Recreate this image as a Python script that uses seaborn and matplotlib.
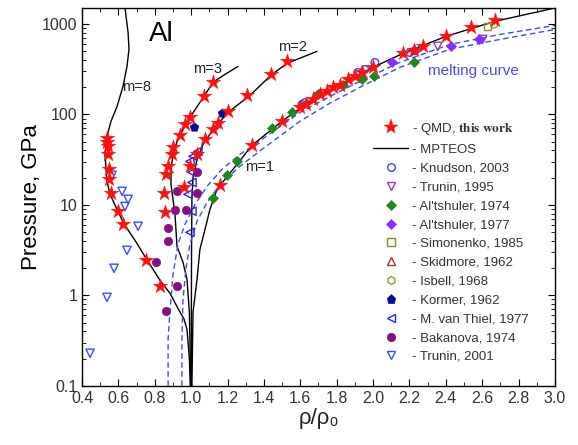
import matplotlib
matplotlib.use("Agg")
import matplotlib.pyplot as plt
import seaborn as sns
from matplotlib.lines import Line2D
from matplotlib.ticker import FixedLocator, FuncFormatter, MultipleLocator, LogLocator, NullFormatter

sns.set_theme(style="ticks")
plt.rcParams["font.family"] = ["Liberation Sans", "DejaVu Sans"]
plt.rcParams["mathtext.fontset"] = "stix"

# ---- QMD (this work), grouped by porosity branch ----
qmd_rho = [0.537, 0.537, 0.543, 0.543, 0.548, 0.548, 0.559, 0.598, 0.625, 0.752, 0.829,
           1.120, 1.070, 0.993, 0.966, 0.938, 0.900, 0.895, 0.873, 0.862, 0.851, 0.856,
           0.960, 0.993, 1.032, 1.076, 1.120, 1.147, 1.202, 1.307, 1.438, 1.526,
           1.158, 1.334, 1.499, 1.598, 1.631, 1.669, 1.708, 1.746, 1.779, 1.818,
           1.862, 1.900, 1.938, 1.999, 2.164, 2.224, 2.274, 2.400, 2.537, 2.669]
qmd_p = [54.3, 49.0, 44.3, 36.1, 24.7, 19.1, 13.7, 8.5, 6.2, 2.44, 1.26,
         226, 158, 92.6, 77.6, 58.6, 43.2, 36.1, 26.6, 21.7, 13.4, 8.3,
         15.6, 26.6, 36.1, 52.9, 68.3, 79.6, 108, 162, 277, 385,
         16.4, 45.4, 83.7, 122, 132, 147, 166, 180, 199, 214,
         244, 263, 291, 331, 472, 510, 564, 728, 915, 1094]

# ---- MPTEOS Hugoniots for porosity m = 8, 3, 2, 1 ----
m8_rho = [0.636, 0.653, 0.658, 0.647, 0.625, 0.592, 0.559, 0.537, 0.526, 0.532, 0.537,
          0.554, 0.592, 0.630, 0.700, 0.750, 0.830, 0.884, 0.930, 0.960, 0.977, 0.990, 0.995]
m8_p = [1500, 805, 523, 339, 204, 122, 84, 57, 36, 24.7, 18.2,
        13.1, 8.9, 6.2, 3.8, 2.6, 1.45, 1.05, 0.70, 0.55, 0.42, 0.2, 0.1]
m3_rho = [1.257, 1.186, 1.120, 1.070, 1.004, 0.955, 0.922, 0.900, 0.889, 0.889,
          0.900, 0.911, 0.922, 0.955, 0.977, 0.990, 0.998]
m3_p = [339, 277, 226, 158, 100, 68, 50, 36, 24.7, 16.9,
        11.5, 7.85, 3.48, 2.32, 1.5, 0.65, 0.1]
m2_rho = [1.691, 1.526, 1.438, 1.323, 1.202, 1.120, 1.065, 1.032, 1.010, 1.004, 1.002, 1.000]
m2_p = [497, 366, 270, 162, 105, 68, 46.6, 31.8, 20.1, 11.5, 3.22, 0.1]
m1_rho = [3.0, 2.669, 2.40, 2.164, 1.999, 1.818, 1.669, 1.499, 1.334, 1.230, 1.158,
          1.142, 1.103, 1.076, 1.048, 1.032, 1.010, 1.004]
m1_p = [1500, 1067, 728, 472, 331, 214, 147, 84, 45.4, 24.7, 16.4,
        14.8, 8.9, 5.36, 3.22, 1.5, 0.65, 0.1]

# ---- melting curves ----
melt_a_rho = [0.873, 0.873, 0.884, 0.900, 0.927, 0.966, 1.021, 1.087, 1.169, 1.268,
              1.389, 1.598, 1.763, 1.927, 2.147, 2.422, 2.697, 3.0]
melt_a_p = [0.1, 0.327, 0.70, 1.71, 3.66, 6.1, 10.1, 16.0, 24.7, 36.1,
            52.9, 105, 158, 232, 376, 593, 765, 963]
melt_b_rho = [0.949, 0.949, 0.955, 0.971, 0.993, 1.032, 1.087, 1.158, 1.268, 1.389,
              1.598, 1.763, 1.927, 2.147, 2.422, 2.697, 3.0]
melt_b_p = [0.1, 0.327, 0.903, 1.94, 3.66, 6.6, 10.6, 16.8, 26.7, 41,
            84, 133, 199, 331, 525, 674, 868]

# ---- experimental data ----
knudson_rho = [1.609, 1.625, 1.916, 1.955, 2.010, 2.202, 2.230]
knudson_p = [129, 135, 291, 314, 375, 484, 505]
trunin95_rho = [2.356, 2.603]
trunin95_p = [564, 674]
alt74_rho = [1.120, 1.197, 1.252, 1.444, 1.554, 1.697, 1.834, 1.938, 2.004, 2.224]
alt74_p = [11.8, 21.2, 30.2, 70, 105, 166, 214, 244, 263, 375]
alt77_rho = [2.103, 2.427, 2.581]
alt77_p = [375, 564, 674]
simonenko_rho = [2.631]
simonenko_p = [938]
isbell_rho = [2.665]
isbell_p = [990]
kormer_rho = [1.169, 1.015]
kormer_p = [103, 71.8]
vthiel_rho = [1.037, 1.010, 0.993, 1.004, 1.004, 0.982, 1.004, 0.993]
vthiel_p = [39, 34.4, 30.2, 22.9, 17.7, 13.1, 8.5, 4.97]
bakanova_rho = [0.922, 0.911, 0.971, 1.032, 1.032, 0.873, 0.873, 0.807, 0.922, 0.862]
bakanova_p = [14.1, 8.7, 8.7, 22.9, 13.4, 5.5, 3.95, 2.32, 1.26, 0.666]
trunin01_rho = [0.565, 0.620, 0.653, 0.636, 0.708, 0.647, 0.576, 0.537, 0.444]
trunin01_p = [21.2, 14.1, 11.5, 9.6, 5.8, 3.14, 1.99, 0.95, 0.229]

fig = plt.figure(figsize=(5.78, 4.45), dpi=100)
ax = fig.add_axes([0.142, 0.133, 0.818, 0.849])

# MPTEOS curves
for r, p in [(m8_rho, m8_p), (m3_rho, m3_p), (m2_rho, m2_p), (m1_rho, m1_p)]:
    sns.lineplot(x=r, y=p, sort=False, estimator=None, ax=ax, color="black", lw=1.0,
                 zorder=2, legend=False)

# melting curves
for r, p in [(melt_a_rho, melt_a_p), (melt_b_rho, melt_b_p)]:
    sns.lineplot(x=r, y=p, sort=False, estimator=None, ax=ax, color="#3a4fe8", lw=1.0,
                 linestyle=(0, (4, 2.5)), zorder=2, legend=False)

handles = {}


def pts(r, p, label, marker, s, face, edge, lw=1.0, z=4):
    sns.scatterplot(x=r, y=p, ax=ax, marker=marker, s=s, color=face, edgecolor=edge,
                    linewidth=lw, zorder=z, legend=False)
    handles[label] = Line2D([], [], ls="none", marker=marker, markersize=s ** 0.5,
                            markerfacecolor=face, markeredgecolor=edge, markeredgewidth=lw)


open_ = "none"
qmd_label = "- QMD, $\\mathbf{this\\ work}$"
pts(qmd_rho, qmd_p, qmd_label, "*", 120, "#ff1010", "#ff1010", 0.3, 5)
handles["- MPTEOS"] = Line2D([], [], color="black", lw=1.0)
pts(knudson_rho, knudson_p, "- Knudson, 2003", "o", 30, open_, "#2d4cff")
pts(trunin95_rho, trunin95_p, "- Trunin, 1995", "v", 36, open_, "#9a3ca8")
pts(alt74_rho, alt74_p, "- Al'tshuler, 1974", "D", 26, "#1e8a1e", "#1e8a1e", 0.5)
pts(alt77_rho, alt77_p, "- Al'tshuler, 1977", "D", 26, "#8a2cff", "#8a2cff", 0.5)
pts(simonenko_rho, simonenko_p, "- Simonenko, 1985", "s", 28, open_, "#8c8c2a")
handles["- Skidmore, 1962"] = Line2D([], [], ls="none", marker="^", markersize=6,
                                     markerfacecolor="none", markeredgecolor="#a83232")
pts(isbell_rho, isbell_p, "- Isbell, 1968", "h", 32, open_, "#9a9a3a")
pts(kormer_rho, kormer_p, "- Kormer, 1962", "p", 42, "#0a0a98", "#0a0a98", 0.5)
pts(vthiel_rho, vthiel_p, "- M. van Thiel, 1977", "<", 36, open_, "#2a2ad0")
pts(bakanova_rho, bakanova_p, "- Bakanova, 1974", "o", 36, "#84117f", "#84117f", 0.5)
pts(trunin01_rho, trunin01_p, "- Trunin, 2001", "v", 36, open_, "#3650ff")

ax.set_yscale("log")
ax.set_xlim(0.4, 3.0)
ax.set_ylim(0.1, 1500)
ax.xaxis.set_major_locator(MultipleLocator(0.2))
ax.xaxis.set_minor_locator(MultipleLocator(0.1))
ax.xaxis.set_major_formatter(FuncFormatter(lambda v, _: f"{v:.1f}"))
ax.yaxis.set_major_locator(FixedLocator([0.1, 1, 10, 100, 1000]))
ax.yaxis.set_major_formatter(FuncFormatter(lambda v, _: f"{v:g}"))
ax.yaxis.set_minor_locator(LogLocator(base=10, subs=range(2, 10)))
ax.yaxis.set_minor_formatter(NullFormatter())
ax.tick_params(which="both", direction="in", top=True, right=True, colors="black",
               labelcolor="#333333", labelsize=11.5)
ax.tick_params(which="major", length=5, width=0.8)
ax.tick_params(which="minor", length=3, width=0.6)
for sp in ax.spines.values():
    sp.set_color("black")
    sp.set_linewidth(1.0)

ax.set_xlabel("ρ/ρ₀", fontsize=16, color="#222222", labelpad=2)
ax.set_ylabel("Pressure, GPa", fontsize=16, color="black", labelpad=0)

ax.text(0.765, 650, "Al", fontsize=20, color="black")
ax.text(0.62, 200, "m=8", fontsize=10.5, color="#222222", va="center")
ax.text(1.01, 314, "m=3", fontsize=10.5, color="#222222", va="center")
ax.text(1.477, 550, "m=2", fontsize=10.5, color="#222222", va="center")
ax.text(1.296, 26, "m=1", fontsize=10.5, color="#222222", va="center")
ax.text(2.30, 300, "melting curve", fontsize=11, color="#4a4aee", va="center")

labels = list(handles.keys())
leg = ax.legend([handles[k] for k in labels], labels, loc="upper left",
                bbox_to_anchor=(0.605, 0.715), frameon=False, fontsize=9.5,
                handlelength=2.6, handletextpad=0.35, labelspacing=0.5, borderaxespad=0)
for t in leg.get_texts():
    t.set_color("#333333")

fig.savefig("out.png", dpi=100)
